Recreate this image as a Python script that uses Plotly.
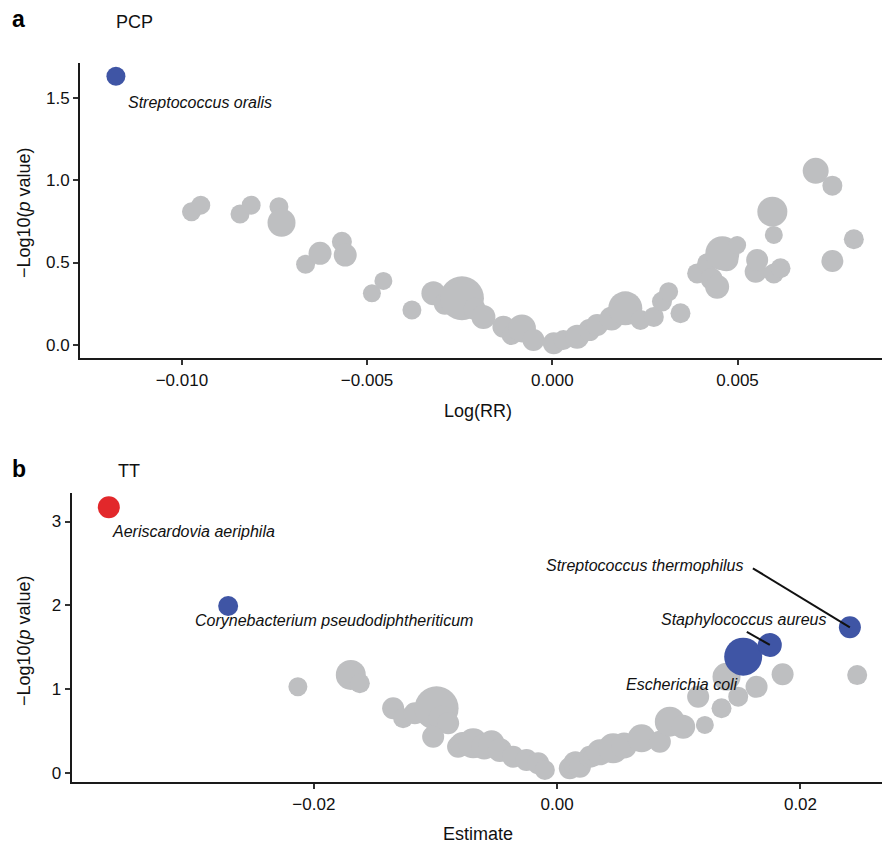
import plotly.graph_objects as go

# ---------------- Panel a (PCP) ----------------
pcp_logrr = [-0.00974, -0.00949, -0.00843, -0.00813, -0.00738, -0.00731, -0.00666, -0.00627,
             -0.00568, -0.00559, -0.00487, -0.00456, -0.00379, -0.00321, -0.0029, -0.00244,
             -0.0021, -0.00186, -0.00132, -0.0011, -0.00082, -0.00051, 0.00004, 0.0003,
             0.00067, 0.0010, 0.00121, 0.0016, 0.00197, 0.00238, 0.00274, 0.00296,
             0.00314, 0.00346, 0.00391, 0.00418, 0.0043, 0.00445, 0.0047, 0.00459,
             0.00499, 0.00549, 0.00553, 0.00598, 0.00616, 0.00594, 0.00598, 0.00711,
             0.00756, 0.00814, 0.00756]
pcp_logp = [0.808, 0.848, 0.794, 0.848, 0.838, 0.741, 0.489, 0.556,
            0.626, 0.545, 0.313, 0.388, 0.212, 0.313, 0.25, 0.283,
            0.22, 0.17, 0.111, 0.06, 0.10, 0.03, 0.01, 0.03,
            0.05, 0.09, 0.121, 0.16, 0.222, 0.152, 0.17, 0.263,
            0.323, 0.192, 0.434, 0.495, 0.40, 0.353, 0.52, 0.556,
            0.606, 0.444, 0.515, 0.434, 0.465, 0.808, 0.667, 1.056,
            0.966, 0.641, 0.509]
pcp_abund = [19, 19, 19, 19, 19, 28, 19, 23,
             20, 23, 18, 18, 19, 24, 22, 44,
             22, 24, 22, 20, 28, 22, 22, 20,
             24, 22, 22, 24, 34, 20, 20, 20,
             19, 20, 20, 20, 22, 24, 24, 34,
             18, 22, 22, 20, 20, 30, 18, 26,
             20, 20, 22]

pcp_sig_names = ["Streptococcus oralis"]
pcp_sig_logrr = [-0.01178]
pcp_sig_logp = [1.63]
pcp_sig_abund = [19]

# ---------------- Panel b (TT) ----------------
tt_est = [-0.02131, -0.01696, -0.01622, -0.01348, -0.01266, -0.0117, -0.00991, -0.0095,
          -0.00896, -0.01019, -0.00814, -0.0078, -0.0069, -0.006, -0.00539, -0.00471,
          -0.00362, -0.00252, -0.00156, -0.00101, 0.00104, 0.0015, 0.00187, 0.00269,
          0.00296, 0.0035, 0.0046, 0.0055, 0.00694, 0.00844, 0.00926, 0.01036,
          0.01214, 0.01159, 0.01351, 0.01392, 0.01488, 0.01639, 0.01853, 0.02466]
tt_logp = [1.032, 1.172, 1.073, 0.775, 0.656, 0.715, 0.775, 0.65,
           0.596, 0.436, 0.317, 0.35, 0.357, 0.32, 0.357, 0.278,
           0.198, 0.159, 0.119, 0.04, 0.06, 0.12, 0.079, 0.198,
           0.198, 0.25, 0.298, 0.33, 0.417, 0.377, 0.615, 0.556,
           0.576, 0.913, 0.775, 1.15, 0.913, 1.03, 1.18, 1.17]
tt_abund = [19, 30, 20, 22, 20, 22, 44, 26,
            22, 22, 22, 24, 30, 26, 26, 24,
            22, 22, 22, 20, 22, 24, 22, 22,
            20, 26, 30, 26, 28, 22, 30, 24,
            18, 22, 20, 28, 20, 22, 22, 20]

tt_sig_names = ["Aeriscardovia aeriphila", "Corynebacterium pseudodiphtheriticum",
                "Escherichia coli", "Staphylococcus aureus", "Streptococcus thermophilus"]
tt_sig_est = [-0.03685, -0.02704, 0.01529, 0.01748, 0.02406]
tt_sig_logp = [3.17, 1.994, 1.39, 1.53, 1.74]
tt_sig_abund = [22, 20, 38, 24, 22]
tt_sig_dir = ["up", "down", "down", "down", "down"]

GRAY = "#BEBFC1"
BLUE = "#3F55A5"
RED = "#E2282B"
FONT = "Liberation Sans, Arial, Helvetica, sans-serif"
W, H = 882, 845

fig = go.Figure()

fig.add_trace(go.Scatter(x=pcp_logrr, y=pcp_logp, mode="markers", xaxis="x", yaxis="y",
                         marker=dict(color=GRAY, size=pcp_abund, sizemode="diameter", opacity=1,
                                     line=dict(width=0)), showlegend=False))
fig.add_trace(go.Scatter(x=pcp_sig_logrr, y=pcp_sig_logp, mode="markers", xaxis="x", yaxis="y",
                         text=pcp_sig_names,
                         marker=dict(color=BLUE, size=pcp_sig_abund, opacity=1, line=dict(width=0)),
                         showlegend=False))

fig.add_trace(go.Scatter(x=tt_est, y=tt_logp, mode="markers", xaxis="x2", yaxis="y2",
                         marker=dict(color=GRAY, size=tt_abund, opacity=1, line=dict(width=0)),
                         showlegend=False))
fig.add_trace(go.Scatter(x=tt_sig_est, y=tt_sig_logp, mode="markers", xaxis="x2", yaxis="y2",
                         text=tt_sig_names,
                         marker=dict(color=[RED if d == "up" else BLUE for d in tt_sig_dir],
                                     size=tt_sig_abund, opacity=1, line=dict(width=0)),
                         showlegend=False))

axis_common = dict(showline=True, linecolor="#1a1a1a", linewidth=2, ticks="outside",
                   ticklen=5, tickwidth=2, tickcolor="#333", showgrid=False, zeroline=False,
                   automargin=False, tickfont=dict(family=FONT, size=17, color="#111"))

fig.update_layout(
    width=W, height=H, margin=dict(l=0, r=0, t=0, b=0),
    paper_bgcolor="white", plot_bgcolor="white",
    font=dict(family=FONT, color="#111"),
    xaxis=dict(domain=[80 / W, 1], range=[-0.01275, 0.0089], tickvals=[-0.01, -0.005, 0, 0.005],
               tickformat=".3f", anchor="y", **axis_common),
    yaxis=dict(domain=[1 - 358.3 / H, 1 - 63 / H], range=[-0.081, 1.71], tickvals=[0, 0.5, 1.0, 1.5],
               tickformat=".1f", anchor="x", **axis_common),
    xaxis2=dict(domain=[71.7 / W, 1], range=[-0.0399, 0.0267], tickvals=[-0.02, 0, 0.02],
                tickformat=".2f", anchor="y2", **axis_common),
    yaxis2=dict(domain=[1 - 782.3 / H, 1 - 493 / H], range=[-0.107, 3.34], tickvals=[0, 1, 2, 3],
                tickformat="d", anchor="x2", **axis_common),
)

ann = []
# panel letters and titles
ann.append(dict(text="<b>a</b>", x=10 / W, y=1 - 19 / H, xref="paper", yref="paper",
                xanchor="left", yanchor="middle", showarrow=False, font=dict(size=23, family=FONT, color="#000")))
ann.append(dict(text="PCP", x=114 / W, y=1 - 22 / H, xref="paper", yref="paper",
                xanchor="left", yanchor="middle", showarrow=False, font=dict(size=18, family=FONT)))
ann.append(dict(text="<b>b</b>", x=10 / W, y=1 - 469 / H, xref="paper", yref="paper",
                xanchor="left", yanchor="middle", showarrow=False, font=dict(size=23, family=FONT, color="#000")))
ann.append(dict(text="TT", x=116 / W, y=1 - 471 / H, xref="paper", yref="paper",
                xanchor="left", yanchor="middle", showarrow=False, font=dict(size=18, family=FONT)))
# axis titles
ann.append(dict(text="\u2212Log10(<i>p</i> value)", x=24 / W, y=1 - 213 / H, xref="paper", yref="paper",
                textangle=-90, xanchor="center", yanchor="middle", showarrow=False, font=dict(size=18, family=FONT)))
ann.append(dict(text="\u2212Log10(<i>p</i> value)", x=24 / W, y=1 - 641 / H, xref="paper", yref="paper",
                textangle=-90, xanchor="center", yanchor="middle", showarrow=False, font=dict(size=18, family=FONT)))
ann.append(dict(text="Log(RR)", x=478 / W, y=1 - 411 / H, xref="paper", yref="paper",
                xanchor="center", yanchor="middle", showarrow=False, font=dict(size=18, family=FONT)))
ann.append(dict(text="Estimate", x=478 / W, y=1 - 834 / H, xref="paper", yref="paper",
                xanchor="center", yanchor="middle", showarrow=False, font=dict(size=18, family=FONT)))

# point labels (offsets in pixels)
lab_font = dict(size=16, family=FONT, color="#111")
ann.append(dict(text="<i>%s</i>" % pcp_sig_names[0], x=pcp_sig_logrr[0], y=pcp_sig_logp[0],
                xref="x", yref="y", xanchor="left", yanchor="middle", xshift=10, yshift=-26,
                showarrow=False, font=lab_font))
tt_offsets = [("left", 1, -24), ("left", -35, -15), ("right", -3, -28), ("right", 58, 25), ("right", -105, 62)]
for name, xv, yv, (xa, xs, ys) in zip(tt_sig_names, tt_sig_est, tt_sig_logp, tt_offsets):
    ann.append(dict(text="<i>%s</i>" % name, x=xv, y=yv, xref="x2", yref="y2",
                    xanchor=xa, yanchor="middle", xshift=xs, yshift=ys, showarrow=False, font=lab_font))
fig.update_layout(annotations=ann)

# leader lines (pixel offsets anchored at the data points)
leaders = {"Staphylococcus aureus": (-23, 13), "Streptococcus thermophilus": (-97, 59)}
for name, xv, yv in zip(tt_sig_names, tt_sig_est, tt_sig_logp):
    if name in leaders:
        dx, dy = leaders[name]
        fig.add_shape(type="line", xref="x2", yref="y2", xsizemode="pixel", ysizemode="pixel",
                      xanchor=xv, yanchor=yv, x0=0, y0=0, x1=dx, y1=dy,
                      line=dict(color="#111", width=2), layer="above")

fig.write_html("out.html", config={"displayModeBar": False},
               post_script="document.body.style.margin='0px';document.body.style.overflow='hidden';")
